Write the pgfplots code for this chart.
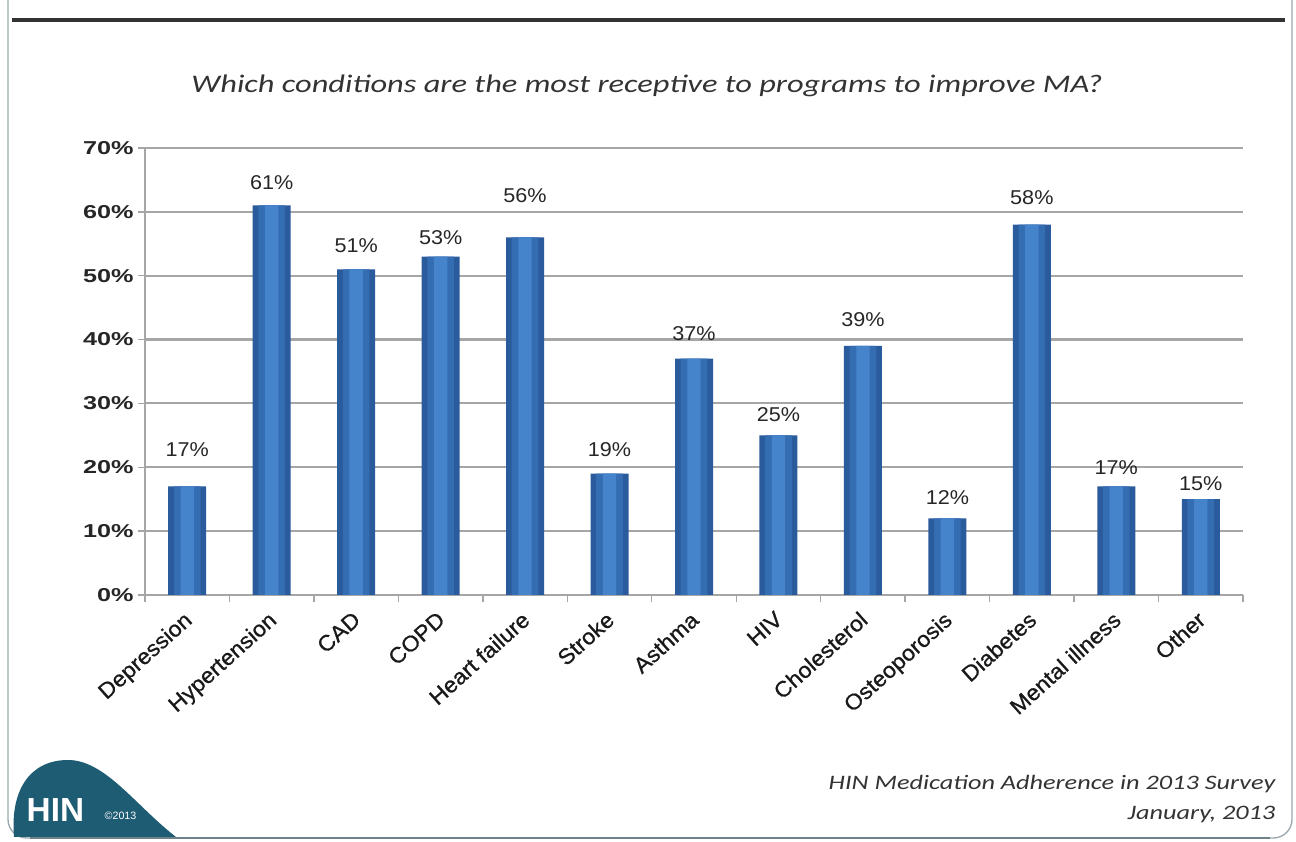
\documentclass[border=0pt]{standalone}
\usepackage{pgfplots}
\pgfplotsset{compat=1.18}
\usepackage{fontspec}
\setmainfont{Liberation Sans}
\newfontfamily\titlefont[FakeStretch=1.28]{Carlito}
\newfontfamily\tickfont[FakeStretch=1.35]{Liberation Sans}
\newfontfamily\lblfont[FakeStretch=1.08]{Liberation Sans}
\newfontfamily\xfont[FakeStretch=1.05,FakeBold=0.8]{Liberation Sans}
\definecolor{barA}{HTML}{2A5B9C}
\definecolor{barB}{HTML}{356DB2}
\definecolor{barC}{HTML}{4583CB}
\definecolor{gridgray}{HTML}{A6A6A6}
\definecolor{logoteal}{HTML}{1E5C74}
\definecolor{framegray}{HTML}{6F8189}
\definecolor{txtgray}{HTML}{333333}
\pgfplotstableread{
x y
0 17
1 61
2 51
3 53
4 56
5 19
6 37
7 25
8 39
9 12
10 58
11 17
12 15
}\bardata
\pgfplotstableread{
x ly v
0 22.7 17
1 64.5 61
2 54.7 51
3 55.9 53
4 62.6 56
5 22.7 19
6 41.0 37
7 28.2 25
8 43.1 39
9 15.2 12
10 62.3 58
11 20.0 17
12 17.5 15
}\labdata
\begin{document}
\begin{tikzpicture}[x=0.75pt,y=0.75pt]
\useasboundingbox (0,0) rectangle (1296,842);
% frame
\draw[framegray!70, line width=1pt, rounded corners=14pt] (8,850) -- (8,4) -- (1292,4) -- (1292,850);
\draw[framegray, line width=2pt] (30,4) -- (1270,4);
\draw[black!80, line width=3pt] (12,822) -- (1285,822);
% title
\node[text=txtgray] at (647,756) {\titlefont\itshape\fontsize{19}{22}\selectfont Which conditions are the most receptive to programs to improve MA?};
\begin{axis}[
  at={(108.75pt,185.25pt)}, anchor=south west,
  scale only axis, width=823.5pt, height=335.25pt,
  xmin=-0.5, xmax=12.5, ymin=0, ymax=70,
  ytick={0,10,...,70},
  yticklabels={0\%,10\%,20\%,30\%,40\%,50\%,60\%,70\%},
  yticklabel style={font=\tickfont\bfseries\fontsize{14}{15}\selectfont, text=black!85},
  xtick={-0.5,0.5,...,12.5},
  xticklabels={},
  extra x ticks={0,1,...,12},
  extra x tick labels={Depression,Hypertension,CAD,COPD,Heart failure,Stroke,Asthma,HIV,Cholesterol,Osteoporosis,Diabetes,Mental illness,Other},
  extra x tick style={major tick length=0pt, xticklabel style={rotate=42, anchor=north east, inner sep=1pt, xshift=-9pt, yshift=-5pt, font=\xfont\fontsize{16.5}{17}\selectfont, text=black!90}},
  axis lines*=left,
  axis line style={gridgray, line width=1pt},
  tick align=outside,
  major tick length=5pt,
  tick style={gridgray, line width=1pt},
  ymajorgrids,
  major grid style={gridgray, line width=1.6pt},
  clip=false,
]
\addplot[ybar, bar shift=0pt, bar width=28.5pt, draw=none, fill=barA] table[x=x,y=y] {\bardata};
\addplot[ybar, bar shift=0pt, bar width=20pt, draw=none, fill=barB] table[x=x,y=y] {\bardata};
\addplot[ybar, bar shift=0pt, bar width=10pt, draw=none, fill=barC] table[x=x,y=y] {\bardata};
\addplot[draw=none, mark=none, nodes near coords={\pgfmathprintnumber[assume math mode=true]{\pgfplotspointmeta}\%},
  point meta=explicit,
  every node near coord/.append style={anchor=center, font=\lblfont\fontsize{15}{16}\selectfont, text=black!85}]
  table[x=x,y=ly,meta=v] {\labdata};
\end{axis}
% footer
\node[anchor=base east, text=txtgray] at (1280,52) {\titlefont\itshape\fontsize{15.4}{18}\selectfont HIN Medication Adherence in 2013 Survey};
\node[anchor=base east, text=txtgray] at (1280,22) {\titlefont\itshape\fontsize{15.4}{18}\selectfont January, 2013};
% logo
\fill[logoteal] (14,5) .. controls (10,52) and (30,82) .. (68,82) .. controls (105,82) and (135,37) .. (176,5) -- cycle;
\node[text=white, anchor=base west] at (22,20) {\fontsize{25}{25}\selectfont\bfseries HIN};
\node[text=white!80, anchor=base west] at (100,22) {\fontsize{8}{9}\selectfont\copyright2013};
\end{tikzpicture}
\end{document}
